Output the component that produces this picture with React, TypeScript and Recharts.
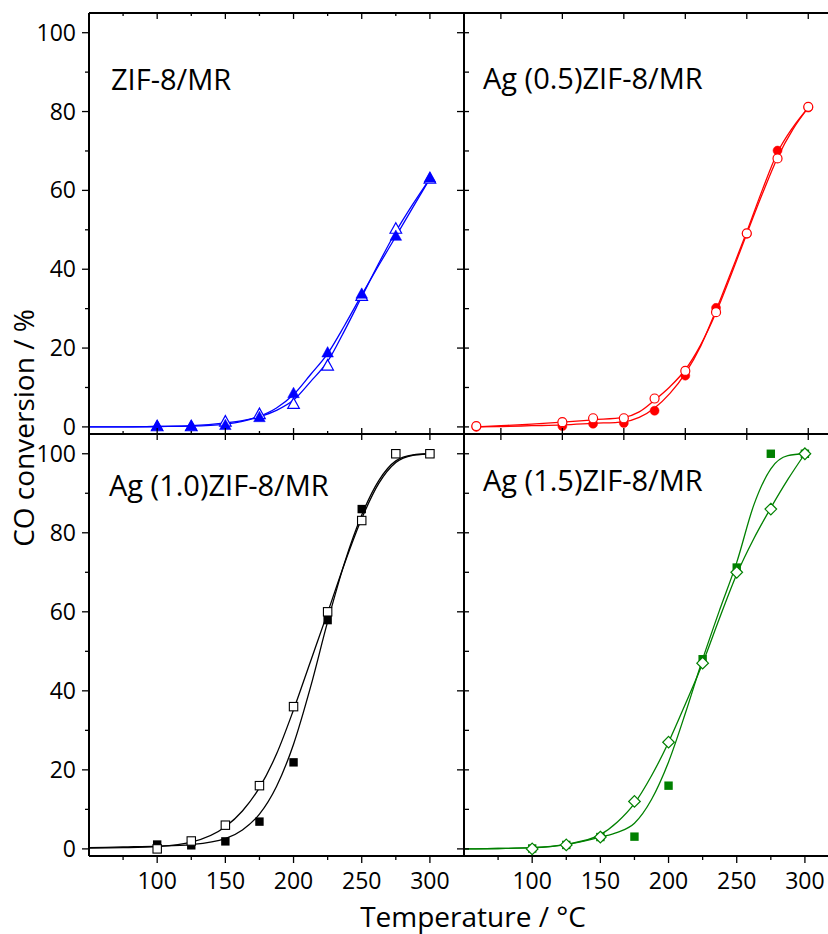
import React from "react";
import { LineChart, Line, XAxis, YAxis } from "recharts";

// whole canvas is a bit wider than the window: the reference is cropped on the right
const W = 850;
const H = 934;
const FONT = "'Open Sans', 'Noto Sans', sans-serif";

const Y_DOMAIN: [number, number] = [-1.8, 105];
const Y_MAJOR = [0, 20, 40, 60, 80, 100];
const Y_TICKS = [0, 10, 20, 30, 40, 50, 60, 70, 80, 90, 100];
const X_MAJOR = [100, 150, 200, 250, 300];
const X_TICKS = [75, 100, 125, 150, 175, 200, 225, 250, 275, 300];
const X_MAJOR_05 = [50, 100, 150, 200, 250, 300];

// measured temperatures (°C)
const T_MEAS = [100, 125, 150, 175, 200, 225, 250, 275, 300];
const T_MEAS_05 = [30, 100, 125, 150, 175, 200, 225, 250, 275, 300];
const T_FIT = [50, 75, 100, 125, 150, 162.5, 175, 187.5, 200, 212.5, 225, 237.5, 250, 262.5, 275, 287.5, 300];
const T_FIT_05 = [30, 50, 75, 100, 125, 150, 162.5, 175, 187.5, 200, 212.5, 225, 237.5, 250, 262.5, 275, 287.5, 300];

// ZIF-8/MR (blue)
const zifFilled = [0.3, 0.3, 0.5, 2.5, 8.6, 18.9, 33.8, 48.5, 63.3];
const zifOpen = [0.2, 0.2, 1.4, 3.3, 5.9, 15.6, 33.3, 50.3, 63];
const zifFitFilled = [0, 0, 0.1, 0.2, 0.7, 1.4, 2.7, 4.8, 8.2, 13.3, 18.6, 25.8, 33.5, 41, 48.3, 55.7, 63];
const zifFitOpen = [0, 0, 0.1, 0.3, 1.0, 1.6, 2.6, 4.2, 6.8, 11.5, 16.6, 24.5, 33, 41.5, 49.5, 56.5, 63];

// Ag (0.5)ZIF-8/MR (red)
const ag05Filled = [0, 0.2, 0.8, 1.0, 4.1, 13, 30.2, 49, 70.1, 81];
const ag05Open = [0.2, 1.2, 2.2, 2.2, 7.2, 14.2, 29.1, 49.1, 68.1, 81.2];
const ag05FitFilled = [0, 0.1, 0.3, 0.5, 0.9, 1.3, 2.4, 4.8, 8.5, 13.6, 20.5, 29.6, 39.5, 49.5, 60, 69.6, 76, 81];
const ag05FitOpen = [0, 0.3, 0.7, 1.2, 1.8, 2.4, 3.8, 6.8, 10.2, 14.5, 20.8, 29, 38.8, 49, 59, 68.3, 75.5, 81];

// Ag (1.0)ZIF-8/MR (black)
const ag10Filled = [1.1, 0.9, 1.9, 6.9, 21.9, 57.9, 86, 100, 100];
const ag10Open = [0, 2.0, 6.0, 16, 36, 60, 83.1, 100, 100];
const ag10FitFilled = [0.3, 0.5, 0.7, 1.1, 2.6, 4.8, 8.8, 15.8, 26.5, 41, 57.5, 72.5, 84.5, 93.2, 98.2, 99.7, 100];
const ag10FitOpen = [0.2, 0.3, 0.6, 1.7, 5.6, 9.6, 15.5, 24, 35.2, 47.5, 59.8, 72.3, 83.6, 92.5, 97.8, 99.6, 100];

// Ag (1.5)ZIF-8/MR (green)
const ag15Filled = [0.1, 1, 3, 3.1, 16, 48, 71.2, 100, 100];
const ag15Open = [0, 1, 3, 12, 27, 47, 70, 86, 100];
const ag15FitFilled = [0, 0.1, 0.3, 1.1, 3.0, 4.2, 6.5, 12.5, 22, 34.5, 48, 60.5, 72.5, 87, 96.2, 99.5, 100];
const ag15FitOpen = [0, 0.1, 0.3, 1.2, 3.6, 6.8, 11.5, 18.5, 27, 36.8, 47, 58.5, 69.5, 78.5, 86.3, 93.5, 100];

const rows = (t: number[], v: number[]) => t.map((x, i) => ({ t: x, v: v[i] }));

type Shape = "triangle" | "circle" | "square" | "diamond";

function Marker({ cx, cy, shape, color, filled }: any) {
  if (cx == null || cy == null) return null;
  const fill = filled ? color : "#fff";
  if (shape === "triangle") {
    const s = 5.8;
    return <polygon points={`${cx},${cy - s} ${cx + s},${cy + s * 0.8} ${cx - s},${cy + s * 0.8}`} fill={fill} stroke={color} strokeWidth={filled ? 0.5 : 1.2} />;
  }
  if (shape === "circle") return <circle cx={cx} cy={cy} r={4.5} fill={fill} stroke={color} strokeWidth={filled ? 0.5 : 1.2} />;
  if (shape === "square") {
    const s = 4.2;
    return <rect x={cx - s} y={cy - s} width={2 * s} height={2 * s} fill={fill} stroke={color} strokeWidth={filled ? 0 : 1.1} />;
  }
  const d = 5.8;
  return <polygon points={`${cx},${cy - d} ${cx + d},${cy} ${cx},${cy + d} ${cx - d},${cy}`} fill={fill} stroke={color} strokeWidth={filled ? 0 : 1.2} />;
}

type TickSpec = {
  side: "bottom" | "top" | "left" | "right";
  major: number[];
  majIn: number;
  majOut: number;
  minIn: number;
  minOut: number;
  labels?: boolean;
  ticks: number[];
};

// draws each tick line itself (in / out lengths), labels only on majors
function tickFor(s: TickSpec) {
  return (p: any) => {
    const { x, y, payload } = p;
    const v = payload.value;
    const isMaj = s.major.indexOf(v) >= 0;
    const a = isMaj ? s.majIn : s.minIn;
    const b = isMaj ? s.majOut : s.minOut;
    let x1 = x, y1 = y, x2 = x, y2 = y;
    if (s.side === "bottom") { y1 = y - a; y2 = y + b; }
    else if (s.side === "top") { y1 = y + a; y2 = y - b; }
    else if (s.side === "left") { x1 = x + a; x2 = x - b; }
    else { x1 = x - a; x2 = x + b; }
    return (
      <g key={`${s.side}-${v}`}>
        {a || b ? <line x1={x1} y1={y1} x2={x2} y2={y2} stroke="#000" strokeWidth={1.3} /> : null}
        {s.labels && isMaj && s.side === "bottom" ? (
          <text x={x} y={y + 33} textAnchor="middle" fontSize={23} fontFamily={FONT} fill="#000">{v}</text>
        ) : null}
        {s.labels && isMaj && s.side === "left" ? (
          <text x={x - 13} y={y + 8} textAnchor="end" fontSize={23} fontFamily={FONT} fill="#000">{v}</text>
        ) : null}
      </g>
    );
  };
}

type Pts = { t: number[]; v: number[]; shape: Shape; filled: boolean };

type PanelProps = {
  box: { x: number; y: number; w: number; h: number };
  xDomain: [number, number];
  color: string;
  fitT: number[];
  fitA: number[];
  fitB: number[];
  pts: Pts[];
  bottom: TickSpec;
  top: TickSpec | null;
  left: TickSpec;
  right: TickSpec | null;
};

const AXIS_LINE = { stroke: "#000", strokeWidth: 2 };

function Panel(p: PanelProps) {
  const { box } = p;
  // axes are 1px thick boxes (0 makes recharts skip them), margins compensate
  const margin = { top: box.y - 1, left: box.x - 1, right: W - box.x - box.w - 1, bottom: H - box.y - box.h - 1 };
  const xCommon = { type: "number" as const, dataKey: "t", domain: p.xDomain, allowDataOverflow: true, height: 1, tickSize: 0, tickMargin: 0, interval: 0 as const, tickLine: false, axisLine: AXIS_LINE, stroke: "#000" };
  const yCommon = { type: "number" as const, domain: Y_DOMAIN, allowDataOverflow: true, width: 1, tickSize: 0, tickMargin: 0, interval: 0 as const, tickLine: false, axisLine: AXIS_LINE, stroke: "#000" };
  return (
    <div style={{ position: "absolute", left: 0, top: 0 }}>
      <LineChart width={W} height={H} margin={margin}>
        <XAxis xAxisId="b" orientation="bottom" {...xCommon} ticks={p.bottom.ticks} tick={tickFor(p.bottom)} />
        <XAxis xAxisId="t" orientation="top" {...xCommon} ticks={p.top ? p.top.ticks : undefined} tick={p.top ? tickFor(p.top) : false} />
        <YAxis yAxisId="l" orientation="left" {...yCommon} ticks={p.left.ticks} tick={tickFor(p.left)} />
        <YAxis yAxisId="r" orientation="right" {...yCommon} ticks={p.right ? p.right.ticks : undefined} tick={p.right ? tickFor(p.right) : false} />
        <Line xAxisId="b" yAxisId="l" data={rows(p.fitT, p.fitA)} dataKey="v" type="monotone" stroke={p.color} strokeWidth={1.3} dot={false} isAnimationActive={false} />
        <Line xAxisId="t" yAxisId="r" data={rows(p.fitT, p.fitB)} dataKey="v" type="monotone" stroke={p.color} strokeWidth={1.3} dot={false} isAnimationActive={false} />
        {p.pts.map((s, i) => (
          <Line
            key={i}
            xAxisId={i % 2 === 0 ? "b" : "t"}
            yAxisId={i % 2 === 0 ? "l" : "r"}
            data={rows(s.t, s.v)}
            dataKey="v"
            stroke="none"
            isAnimationActive={false}
            dot={(d: any) => <Marker key={`m${i}-${d.index}`} cx={d.cx} cy={d.cy} shape={s.shape} color={p.color} filled={s.filled} />}
          />
        ))}
      </LineChart>
    </div>
  );
}

const LEFT_LABELLED: TickSpec = { side: "left", major: Y_MAJOR, majIn: 0, majOut: 7, minIn: 0, minOut: 4, labels: true, ticks: Y_TICKS };
const LEFT_INNER: TickSpec = { side: "left", major: Y_MAJOR, majIn: 5, majOut: 0, minIn: 5, minOut: 0, ticks: Y_TICKS };
const RIGHT_INNER: TickSpec = { side: "right", major: Y_MAJOR, majIn: 7, majOut: 0, minIn: 0, minOut: 0, ticks: Y_MAJOR };
const BOTTOM_LABELLED: TickSpec = { side: "bottom", major: X_MAJOR, majIn: 0, majOut: 7, minIn: 0, minOut: 4, labels: true, ticks: X_TICKS };

export default function App() {
  return (
    <div style={{ position: "absolute", left: 0, top: 0, width: 828, height: 934, overflow: "hidden", background: "#fff" }}>
      <Panel
        box={{ x: 89, y: 13, w: 375, h: 421 }}
        xDomain={[50, 325]}
        color="#0000ff"
        fitT={T_FIT}
        fitA={zifFitFilled}
        fitB={zifFitOpen}
        pts={[
          { t: T_MEAS, v: zifOpen, shape: "triangle", filled: false },
          { t: T_MEAS, v: zifFilled, shape: "triangle", filled: true },
        ]}
        bottom={{ side: "bottom", major: X_MAJOR, majIn: 6, majOut: 6, minIn: 3, minOut: 0, ticks: X_TICKS }}
        top={{ side: "top", major: X_MAJOR, majIn: 6, majOut: 0, minIn: 3, minOut: 0, ticks: X_TICKS }}
        left={LEFT_LABELLED}
        right={RIGHT_INNER}
      />
      <Panel
        box={{ x: 464, y: 13, w: 375, h: 421 }}
        xDomain={[20, 325]}
        color="#ff0000"
        fitT={T_FIT_05}
        fitA={ag05FitFilled}
        fitB={ag05FitOpen}
        pts={[
          { t: T_MEAS_05, v: ag05Filled, shape: "circle", filled: true },
          { t: T_MEAS_05, v: ag05Open, shape: "circle", filled: false },
        ]}
        bottom={{ side: "bottom", major: X_MAJOR_05, majIn: 6, majOut: 6, minIn: 0, minOut: 0, ticks: X_MAJOR_05 }}
        top={{ side: "top", major: X_MAJOR_05, majIn: 6, majOut: 0, minIn: 0, minOut: 0, ticks: X_MAJOR_05 }}
        left={LEFT_INNER}
        right={null}
      />
      <Panel
        box={{ x: 89, y: 434, w: 375, h: 422 }}
        xDomain={[50, 325]}
        color="#000000"
        fitT={T_FIT}
        fitA={ag10FitFilled}
        fitB={ag10FitOpen}
        pts={[
          { t: T_MEAS, v: ag10Filled, shape: "square", filled: true },
          { t: T_MEAS, v: ag10Open, shape: "square", filled: false },
        ]}
        bottom={BOTTOM_LABELLED}
        top={null}
        left={LEFT_LABELLED}
        right={RIGHT_INNER}
      />
      <Panel
        box={{ x: 464, y: 434, w: 375, h: 422 }}
        xDomain={[50, 325]}
        color="#008000"
        fitT={T_FIT}
        fitA={ag15FitFilled}
        fitB={ag15FitOpen}
        pts={[
          { t: T_MEAS, v: ag15Filled, shape: "square", filled: true },
          { t: T_MEAS, v: ag15Open, shape: "diamond", filled: false },
        ]}
        bottom={BOTTOM_LABELLED}
        top={null}
        left={LEFT_INNER}
        right={null}
      />
      <svg width={828} height={934} style={{ position: "absolute", left: 0, top: 0, pointerEvents: "none" }}>
        <g fontFamily={FONT} fill="#000">
          <text x={111} y={90} fontSize={29}>ZIF-8/MR</text>
          <text x={483} y={89} fontSize={29}>Ag (0.5)ZIF-8/MR</text>
          <text x={109} y={496} fontSize={29}>Ag (1.0)ZIF-8/MR</text>
          <text x={483} y={491} fontSize={29}>Ag (1.5)ZIF-8/MR</text>
          <text x={473} y={927} fontSize={28} textAnchor="middle">Temperature / °C</text>
          <text transform="translate(34,428) rotate(-90)" fontSize={28} textAnchor="middle">CO conversion / %</text>
        </g>
      </svg>
    </div>
  );
}
